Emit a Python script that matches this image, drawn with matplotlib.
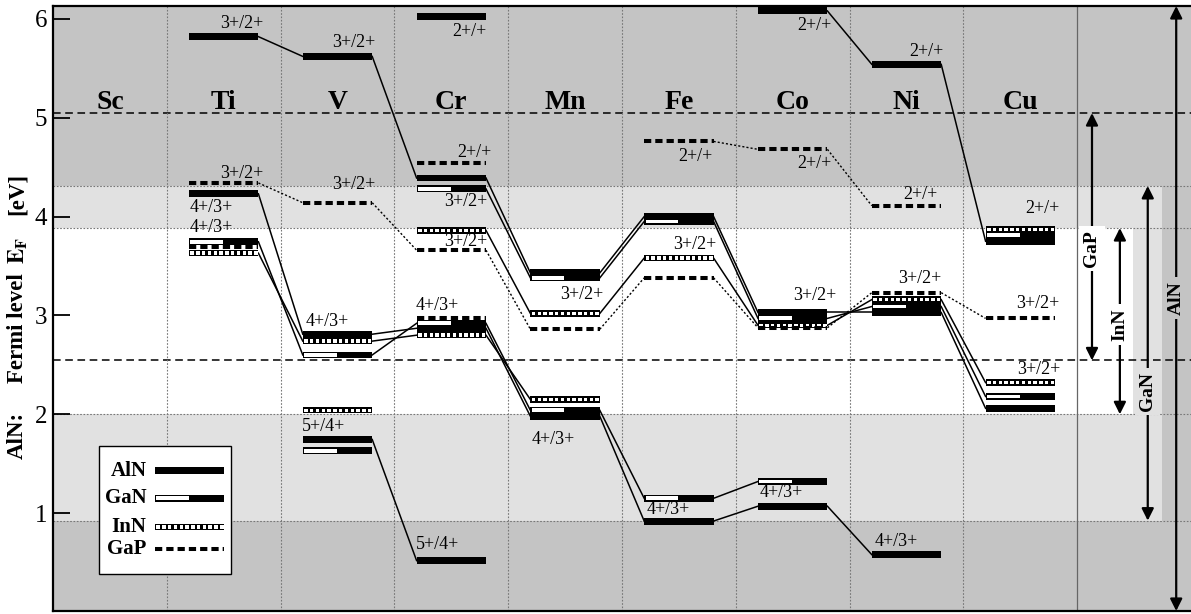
import matplotlib
matplotlib.use("Agg")
import matplotlib.pyplot as plt
from matplotlib.patches import Rectangle

plt.rcParams["font.family"] = ["Liberation Serif", "DejaVu Serif"]
plt.rcParams["mathtext.fontset"] = "stix"

elements = ["Sc", "Ti", "V", "Cr", "Mn", "Fe", "Co", "Ni", "Cu"]

# band edges of each host on the AlN scale (eV): (VBM, CBM)
aln_edges = (0.0, 6.13)
gan_edges = (0.924, 4.31)
inn_edges = (2.0, 3.884)
gap_edges = (2.545, 5.047)

# transition levels, one list per connected series
aln_levels = [
    [("Ti", 5.82), ("V", 5.62), ("Cr", 4.39), ("Mn", 3.43), ("Fe", 4.00), ("Co", 3.03), ("Ni", 3.03), ("Cu", 2.06)],
    [("Ti", 4.23), ("V", 2.81), ("Cr", 2.87), ("Mn", 1.98), ("Fe", 0.92), ("Co", 1.07), ("Ni", 0.58)],
    [("V", 1.745), ("Cr", 0.52)],
    [("Cr", 6.02)],
    [("Co", 6.08), ("Ni", 5.54), ("Cu", 3.75)],
]
gan_levels = [
    [("Cr", 4.28), ("Mn", 3.38), ("Fe", 3.95), ("Co", 2.97), ("Ni", 3.09), ("Cu", 2.18)],
    [("Ti", 3.745), ("V", 2.60), ("Cr", 2.92), ("Mn", 2.04), ("Fe", 1.15), ("Co", 1.32)],
    [("V", 1.63)],
    [("Cu", 3.81)],
]
inn_levels = [
    [("Cr", 3.86), ("Mn", 3.02), ("Fe", 3.58), ("Co", 2.90), ("Ni", 3.16), ("Cu", 2.32)],
    [("Ti", 3.63), ("V", 2.74), ("Cr", 2.80), ("Mn", 2.15)],
    [("V", 2.04)],
    [("Cu", 3.87)],
]
gap_levels = [
    [("Ti", 4.34), ("V", 4.14), ("Cr", 3.66), ("Mn", 2.86), ("Fe", 3.38), ("Co", 2.875), ("Ni", 3.23), ("Cu", 2.97)],
    [("Fe", 4.76), ("Co", 4.68), ("Ni", 4.11)],
    [("Cr", 4.54)],
    [("Ti", 3.69)],
    [("Cr", 2.97)],
]

# charge-state labels: (text, x, y)
level_labels = [
    ("3+/2+", 1.47, 5.95), ("3+/2+", 1.47, 4.44), ("4+/3+", 1.20, 4.09), ("4+/3+", 1.20, 3.89),
    ("3+/2+", 2.45, 5.76), ("3+/2+", 2.45, 4.32), ("4+/3+", 2.22, 2.94), ("5+/4+", 2.19, 1.88),
    ("2+/+", 3.51, 5.87), ("2+/+", 3.55, 4.65), ("3+/2+", 3.44, 4.15), ("3+/2+", 3.44, 3.75),
    ("4+/3+", 3.19, 3.10), ("5+/4+", 3.19, 0.68),
    ("3+/2+", 4.46, 3.21), ("4+/3+", 4.21, 1.74),
    ("2+/+", 5.49, 4.61), ("3+/2+", 5.45, 3.72), ("4+/3+", 5.22, 1.04),
    ("2+/+", 6.54, 5.93), ("2+/+", 6.54, 4.54), ("3+/2+", 6.50, 3.20), ("4+/3+", 6.21, 1.21),
    ("2+/+", 7.52, 5.67), ("2+/+", 7.47, 4.22), ("3+/2+", 7.43, 3.37), ("4+/3+", 7.22, 0.71),
    ("2+/+", 8.54, 4.08), ("3+/2+", 8.46, 3.12), ("3+/2+", 8.47, 2.45),
]

# axis title pieces and their vertical centres (eV)
ylabel_parts = [("AlN:", 1.79), ("Fermi level", 2.87), (r"$\mathbf{E}_{\mathbf{F}}$", 3.66), ("[eV]", 4.23)]

DARK = "#c4c4c4"
LIGHT = "#e1e1e1"
BAR_L = 0.195
BAR_W = 0.61

fig = plt.figure(figsize=(11.91, 6.14), dpi=100)
ax = fig.add_axes([53 / 1191, 3 / 614, 1138 / 1191, 605 / 614])
ax.set_xlim(0, 10)
ax.set_ylim(0.01, aln_edges[1])
ax.set_facecolor(DARK)

# nested gaps: GaN inside AlN, InN inside GaN
ax.add_patch(Rectangle((0, gan_edges[0]), 9.745, gan_edges[1] - gan_edges[0], fc=LIGHT, ec="none", zorder=0))
ax.add_patch(Rectangle((0, inn_edges[0]), 9.49, inn_edges[1] - inn_edges[0], fc="white", ec="none", zorder=0))
for y in (*gan_edges, *inn_edges):
    ax.axhline(y, color="#777777", lw=0.8, ls=(0, (1.5, 1.5)), zorder=1)
for y in gap_edges:
    ax.axhline(y, color="black", lw=1.1, ls=(0, (5, 3)), zorder=1)
for x in range(1, 9):
    ax.axvline(x, color="#777777", lw=0.8, ls=(0, (1.5, 1.5)), zorder=1)
ax.axvline(9, color="#666666", lw=0.9, zorder=1)


def bar_aln(x0, v, z=5):
    ax.add_patch(Rectangle((x0, v - 0.035), BAR_W, 0.07, fc="black", ec="none", zorder=z))


def bar_gan(x0, v, z=6):
    ax.add_patch(Rectangle((x0, v - 0.035), BAR_W, 0.07, fc="black", ec="none", zorder=z))
    ax.add_patch(Rectangle((x0 + 0.012, v - 0.02), BAR_W * 0.47, 0.04, fc="white", ec="none", zorder=z))


def bar_inn(x0, v, z=7):
    ax.add_patch(Rectangle((x0, v - 0.032), BAR_W, 0.064, fc="black", ec="none", zorder=z))
    n = 12
    step = BAR_W / n
    for k in range(n):
        ax.add_patch(Rectangle((x0 + k * step + step * 0.25, v - 0.018), step * 0.6, 0.036,
                               fc="white", ec="none", zorder=z))


def bar_gap(x0, v, z=8):
    ax.plot([x0, x0 + BAR_W], [v, v], color="black", lw=2.9, dashes=(1.8, 1.0),
            dash_capstyle="butt", solid_capstyle="butt", zorder=z)


def draw_series(series, bar, connector):
    for chain in series:
        pts = [(elements.index(el), v) for el, v in chain]
        for i, v in pts:
            bar(i + BAR_L, v)
        for (i, a), (j, b) in zip(pts[:-1], pts[1:]):
            ax.plot([i + BAR_L + BAR_W, j + BAR_L], [a, b], color="black", zorder=3, **connector)


solid = dict(lw=1.1)
dotted = dict(lw=1.0, dashes=(1.5, 1.5))
draw_series(aln_levels, bar_aln, solid)
draw_series(gan_levels, bar_gan, solid)
draw_series(inn_levels, bar_inn, solid)
draw_series(gap_levels, bar_gap, dotted)

for text, x, y in level_labels:
    ax.text(x, y, text, fontsize=13, ha="left", va="center", zorder=9)

for i, el in enumerate(elements):
    ax.text(i + 0.5, 5.15, el, fontsize=20, fontweight="bold", ha="center", va="center", zorder=9)

# band-gap arrows on the right
gap_arrows = [
    ("GaP", 9.13, gap_edges, 3.68, "white"),
    ("InN", 9.375, inn_edges, 2.91, "white"),
    ("GaN", 9.62, gan_edges, 2.23, LIGHT),
    ("AlN", 9.87, (0.01, aln_edges[1]), 3.18, DARK),
]
for name, x, (lo, hi), ymid, bg in gap_arrows:
    ax.annotate("", xy=(x, hi), xytext=(x, lo),
                arrowprops=dict(arrowstyle="<|-|>", color="black", lw=1.6,
                                mutation_scale=18, shrinkA=0, shrinkB=0),
                zorder=4)
    ax.text(x, ymid, name, rotation=90, fontsize=14, fontweight="bold", ha="center", va="center",
            bbox=dict(fc=bg, ec="none", pad=3), zorder=5)

# legend box
ax.add_patch(Rectangle((0.40, 0.38), 1.16, 1.30, fc="white", ec="black", lw=1.0, zorder=10))
legend_rows = [("AlN", 1.43, bar_aln), ("GaN", 1.15, bar_gan), ("InN", 0.86, bar_inn), ("GaP", 0.64, bar_gap)]
for name, y, bar in legend_rows:
    ax.text(0.82, y, name, fontsize=15, fontweight="bold", ha="right", va="center", zorder=11)
    bar(0.896, y, z=11)

ylabel_tr = ax.get_yaxis_transform()
for text, y in ylabel_parts:
    ax.text(-0.031, y, text, transform=ylabel_tr, rotation=90, fontsize=16.5, fontweight="bold",
            ha="center", va="center", clip_on=False)

ax.set_yticks([1, 2, 3, 4, 5, 6])
ax.set_xticks([])
ax.tick_params(axis="y", direction="in", length=12, width=1.3, labelsize=18, pad=4)
for side in ("left", "top", "bottom"):
    ax.spines[side].set_linewidth(1.6)
ax.spines["right"].set_visible(False)

fig.savefig("out.png", dpi=100)
